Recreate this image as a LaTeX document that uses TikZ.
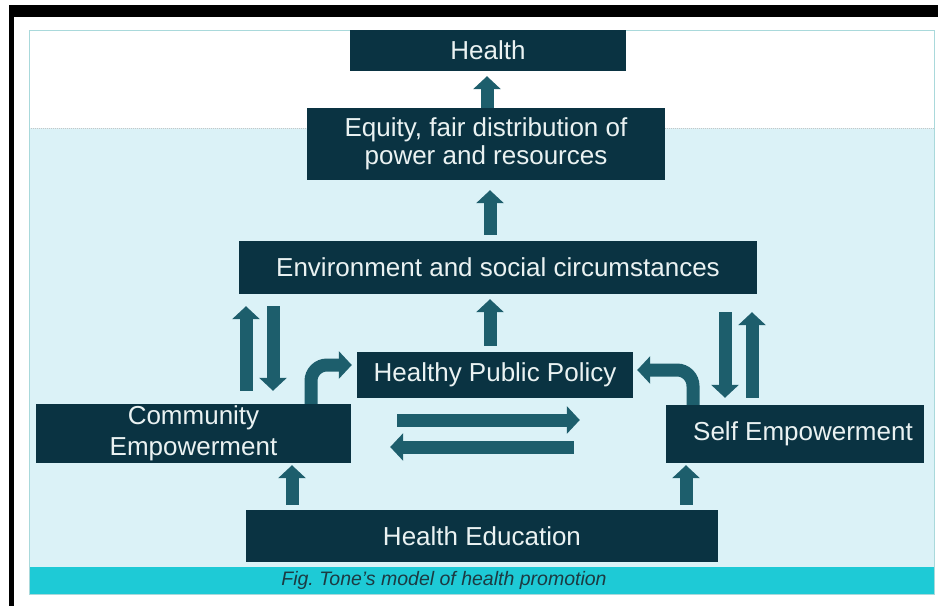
\documentclass[tikz,border=0pt]{standalone}
\usepackage{fontspec}
\setmainfont{Liberation Sans}
\usetikzlibrary{arrows.meta,calc}
\definecolor{boxdark}{HTML}{0A3342}
\definecolor{boxtext}{HTML}{EAF2F2}
\definecolor{arrowteal}{HTML}{1D5E6C}
\definecolor{panelcyan}{HTML}{DBF2F7}
\definecolor{panelline}{HTML}{A9D9DB}
\definecolor{captionbar}{HTML}{1ECAD6}
\definecolor{captiontext}{HTML}{1C3A42}
\tikzstyle{block}=[fill=boxdark,text=boxtext,inner sep=0pt,align=center,font=\fontsize{26}{30}\selectfont]
\tikzstyle{fatarrow}=[draw=arrowteal,line width=13pt,-{Triangle[length=13pt 0,width=27pt 0]}]
\tikzstyle{bentarrow}=[fatarrow,rounded corners=16pt]

\begin{document}
\begin{tikzpicture}[x=1pt,y=-1pt]
	\useasboundingbox (0,0) rectangle (938,606);
	\fill[white] (0,0) rectangle (938,606);
	% frame of the slide
	\fill[black] (9,5) rectangle (938,17);
	\fill[black] (9,5) rectangle (14,606);
	% panel: white top, light cyan body, caption bar
	\fill[panelcyan] (29,128) rectangle (934,567);
	\fill[captionbar] (29,567) rectangle (934,594);
	\draw[gray!45,densely dotted,line width=1pt] (29,128) -- (934,128);
	\draw[panelline,line width=1pt] (29,30) rectangle (934,594);

	% boxes
	\node[block,minimum width=276pt,minimum height=41pt] (health) at (488,50.5) {Health};
	\node[block,minimum width=358pt,minimum height=72pt,font=\fontsize{26}{28}\selectfont] (equity) at (486,144) {Equity, fair distribution of\\power and resources};
	\node[block,minimum width=518pt,minimum height=53pt] (env) at (498,267.5) {Environment and social circumstances};
	\node[block,minimum width=276pt,minimum height=46pt] (hpp) at (495,375) {Healthy Public Policy};
	\node[block,minimum width=315pt,minimum height=59pt,font=\fontsize{26}{31}\selectfont] (comm) at (193.5,433.5) {Community\\Empowerment};
	\node[block,minimum width=258pt,minimum height=58pt] (self) at (795,434) {\hspace*{16pt}Self Empowerment};
	\node[block,minimum width=472pt,minimum height=52pt] (educ) at (482,536) {Health Education};
	\node[text=captiontext,font=\fontsize{19.5}{22}\selectfont\itshape] (caption) at (444,580.5) {Fig.\ Tone's model of health promotion};

	% arrows up the chain
	\draw[fatarrow,shorten >=5pt] (487,0 |- equity.north) -- (487,0 |- health.south);
	\draw[fatarrow,shorten <=6pt,shorten >=10pt] (490,0 |- env.north) -- (490,0 |- equity.south);
	\draw[fatarrow,shorten <=6pt,shorten >=5pt] (490,0 |- hpp.north) -- (490,0 |- env.south);
	% two-way arrows to the environment
	\draw[fatarrow,shorten <=13pt,shorten >=12pt] (246,0 |- comm.north) -- (246,0 |- env.south);
	\draw[fatarrow,shorten <=12pt,shorten >=13pt] (273,0 |- env.south) -- (273,0 |- comm.north);
	\draw[fatarrow,shorten <=18pt,shorten >=7pt] (725,0 |- env.south) -- (725,0 |- self.north);
	\draw[fatarrow,shorten <=7pt,shorten >=18pt] (752,0 |- self.north) -- (752,0 |- env.south);
	% bent arrows into the policy box
	\draw[bentarrow,shorten >=5pt] (311,0 |- comm.north) |- (hpp.west |- 0,365);
	\draw[bentarrow,shorten >=4pt] (693,0 |- self.north) |- (hpp.east |- 0,370);
	% community <-> self
	\draw[fatarrow,shorten <=46pt,shorten >=86pt] (comm.east |- 0,420) -- (self.west |- 0,420);
	\draw[fatarrow,shorten <=92pt,shorten >=39pt] (self.west |- 0,447) -- (comm.east |- 0,447);
	% education feeds both
	\draw[fatarrow,shorten <=5pt,shorten >=2pt] (292,0 |- educ.north) -- (292,0 |- comm.south);
	\draw[fatarrow,shorten <=5pt,shorten >=2pt] (686,0 |- educ.north) -- (686,0 |- self.south);
\end{tikzpicture}
\end{document}
